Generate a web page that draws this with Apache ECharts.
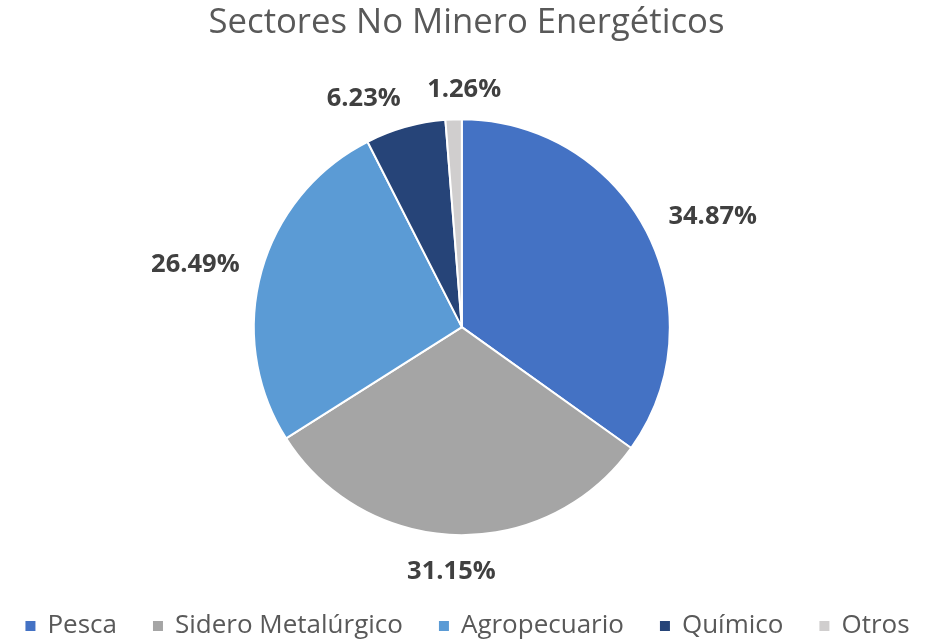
<!DOCTYPE html>
<html>
<head>
<meta charset="utf-8">
<script src="https://cdn.jsdelivr.net/npm/echarts@6/dist/echarts.min.js"></script>
<style>html,body{margin:0;padding:0;background:#fff}#c{width:933px;height:644px}</style>
</head>
<body>
<div id="c"></div>
<script>
const titleText = 'Sectores No Minero Energéticos';
const categories = ['Pesca', 'Sidero Metalúrgico', 'Agropecuario', 'Químico', 'Otros'];
const values = [34.87, 31.15, 26.49, 6.23, 1.26];
const colors = ['#4472C4', '#A5A5A5', '#5B9BD5', '#264478', '#D0CECE'];
// small nudges (px) to mimic Excel's best-fit label placement
const labelNudges = [[0, -10], [51, 25], [-4, -4], [53, -37], [59, -18]];

const fmt = v => v.toFixed(2) + '%';
const chart = echarts.init(document.getElementById('c'), null, {renderer: 'canvas'});
chart.setOption({
  animation: false,
  backgroundColor: '#ffffff',
  color: colors,
  title: {
    text: titleText,
    left: 'center',
    top: 1,
    textStyle: {fontFamily: 'Open Sans', fontSize: 34.7, fontWeight: 'normal', color: '#595959'}
  },
  legend: {
    bottom: 0,
    left: 'center',
    icon: 'rect',
    itemWidth: 12,
    itemHeight: 12,
    itemGap: 34,
    data: categories,
    textStyle: {fontFamily: 'Open Sans', fontSize: 26, color: '#595959', padding: [0, 0, 0, 6]}
  },
  series: [{
    type: 'pie',
    center: ['49.5%', '50.8%'],
    radius: 208,
    startAngle: 90,
    clockwise: true,
    itemStyle: {borderColor: '#ffffff', borderWidth: 2},
    label: {
      show: true,
      position: 'outside',
      formatter: p => fmt(p.value),
      fontFamily: 'Open Sans',
      fontWeight: 'bold',
      fontSize: 25.5,
      color: '#404040'
    },
    labelLine: {show: false, length: 12, length2: 6},
    labelLayout: p => {
      const i = values.findIndex(v => fmt(v) === p.text);
      const n = labelNudges[i] || [0, 0];
      return {dx: n[0], dy: n[1]};
    },
    data: categories.map((n, i) => ({name: n, value: values[i]}))
  }]
});
</script>
</body>
</html>
